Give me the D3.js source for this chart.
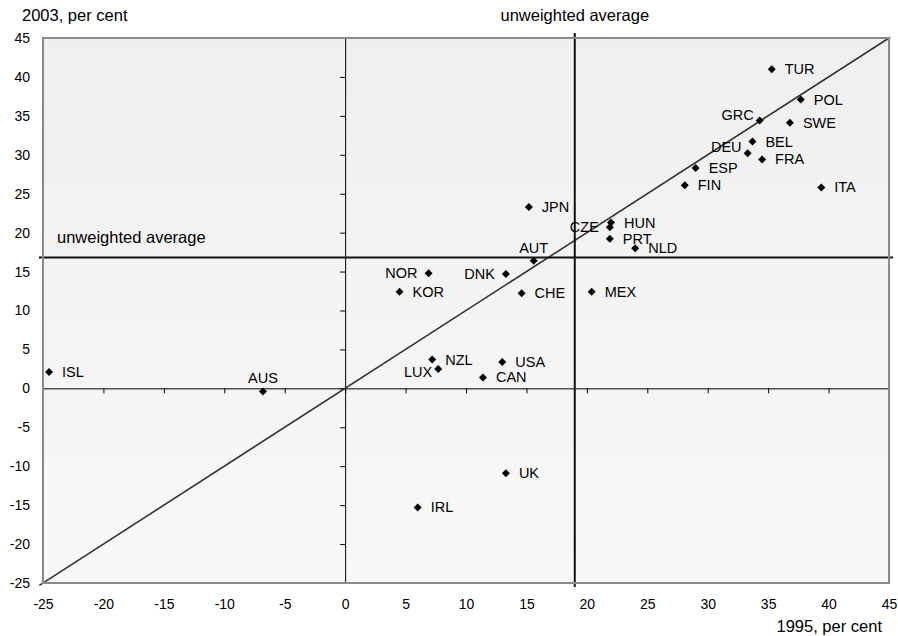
<!DOCTYPE html>
<html>
<head>
<meta charset="utf-8">
<script src="https://cdn.jsdelivr.net/npm/d3@7"></script>
<style>
  html, body { margin: 0; padding: 0; background: #fff; }
  svg { display: block; }
  text { font-family: "Liberation Sans", Arial, sans-serif; fill: #000; }
</style>
</head>
<body>
<svg id="chart" width="898" height="636"></svg>
<script>
const MARGINTOP    = 38;
const MARGINRIGHT  = 9;
const MARGINBOTTOM = 53;
const MARGINLEFT   = 43;

// chart data
const countries = ["TUR","POL","GRC","SWE","BEL","DEU","FRA","ESP","FIN","ITA",
                   "JPN","HUN","CZE","PRT","NLD","AUT","DNK","CHE","MEX","USA",
                   "CAN","NOR","KOR","NZL","LUX","ISL","AUS","UK","IRL"];
const share1995 = [35.3, 37.7, 34.3, 36.8, 33.7, 33.3, 34.5, 29.0, 28.1, 39.4,
                   15.2, 22.0, 21.9, 21.9, 24.0, 15.6, 13.3, 14.6, 20.4, 13.0,
                   11.4, 6.9, 4.5, 7.2, 7.7, -24.5, -6.8, 13.3, 6.0];
const share2003 = [41.0, 37.1, 34.4, 34.1, 31.7, 30.2, 29.4, 28.3, 26.1, 25.8,
                   23.3, 21.3, 20.7, 19.2, 18.0, 16.4, 14.7, 12.2, 12.4, 3.4,
                   1.4, 14.8, 12.4, 3.7, 2.5, 2.1, -0.4, -10.9, -15.3];
const avg1995 = 19.0;
const avg2003 = 16.8;
const xTicks = [-25, -20, -15, -10, -5, 0, 5, 10, 15, 20, 25, 30, 35, 40, 45];
const yTicks = [-25, -20, -15, -10, -5, 0, 5, 10, 15, 20, 25, 30, 35, 40, 45];

// where the country label sits relative to its marker
const labelSide = { GRC: "upleft", DEU: "upleft", CZE: "left", DNK: "left",
                    NOR: "left", LUX: "left", AUT: "above", AUS: "above" };

document.addEventListener('DOMContentLoaded', function(){
    drawChart();
}, false);

function drawChart(){
    var vis = d3.select("#chart");
    var W = +vis.attr("width"), H = +vis.attr("height");

    var x = d3.scaleLinear().domain([-25, 45]).range([MARGINLEFT, W - MARGINRIGHT]);
    var y = d3.scaleLinear().domain([-25, 45]).range([H - MARGINBOTTOM, MARGINTOP]);

    var grad = vis.append("defs").append("linearGradient")
        .attr("id", "bg").attr("x1", 0).attr("y1", 0).attr("x2", 0).attr("y2", 1);
    grad.append("stop").attr("offset", "0%").attr("stop-color", "#efefef");
    grad.append("stop").attr("offset", "100%").attr("stop-color", "#f8f8f8");

    vis.append("rect")
        .attr("x", x(-25)).attr("y", y(45))
        .attr("width", x(45) - x(-25)).attr("height", y(-25) - y(45))
        .attr("fill", "url(#bg)");

    // zero axes with ticks
    vis.append("g")
        .attr("transform", "translate(" + x(0) + ",0)")
        .call(d3.axisLeft(y).tickValues(yTicks).tickSize(5).tickFormat(""))
        .call(g => g.selectAll("line, path").attr("stroke", "#000"));

    vis.append("g")
        .attr("transform", "translate(0," + y(0) + ")")
        .call(d3.axisBottom(x).tickValues(xTicks).tickSize(5).tickFormat(""))
        .call(g => g.selectAll("line, path").attr("stroke", "#000"));

    // tick labels along the frame (plain hyphen for negatives)
    vis.append("g")
        .attr("transform", "translate(" + x(-25) + ",0)")
        .call(d3.axisLeft(y).tickValues(yTicks).tickSize(0).tickPadding(13).tickFormat(d => String(d)))
        .call(g => g.select(".domain").remove())
        .call(g => g.selectAll("text").style("font-size", "14px")
            .style("font-family", "'Liberation Sans', Arial, sans-serif"));

    vis.append("g")
        .attr("transform", "translate(0," + y(-25) + ")")
        .call(d3.axisBottom(x).tickValues(xTicks).tickSize(0).tickPadding(16).tickFormat(d => String(d)))
        .call(g => g.select(".domain").remove())
        .call(g => g.selectAll("text").style("font-size", "14px")
            .style("font-family", "'Liberation Sans', Arial, sans-serif"));

    // 45 degree line
    vis.append("line")
        .attr("x1", x(-25.3)).attr("y1", y(-25.3))
        .attr("x2", x(45.1)).attr("y2", y(45.1))
        .attr("stroke", "#333").attr("stroke-width", 1.6);

    // unweighted averages
    vis.append("line")
        .attr("x1", x(avg1995)).attr("x2", x(avg1995))
        .attr("y1", y(45) - 5).attr("y2", y(-25) + 4)
        .attr("stroke", "#111").attr("stroke-width", 2);
    vis.append("line")
        .attr("x1", x(-25) - 4).attr("x2", x(45) + 4)
        .attr("y1", y(avg2003)).attr("y2", y(avg2003))
        .attr("stroke", "#111").attr("stroke-width", 2);

    // frame
    vis.append("rect")
        .attr("x", x(-25)).attr("y", y(45))
        .attr("width", x(45) - x(-25)).attr("height", y(-25) - y(45))
        .attr("fill", "none").attr("stroke", "#8a8a8a").attr("stroke-width", 2);

    // points: square diamonds
    var pts = countries.map(function(c, i){ return {c: c, x: share1995[i], y: share2003[i]}; });
    var diamond = d3.symbol().type(d3.symbolSquare).size(32);

    vis.selectAll(".pt").data(pts).enter().append("path")
        .attr("class", "pt")
        .attr("transform", d => "translate(" + x(d.x) + "," + y(d.y) + ") rotate(45)")
        .attr("d", diamond)
        .attr("fill", "#000");

    vis.selectAll(".lbl").data(pts).enter().append("text")
        .attr("class", "lbl")
        .style("font-size", "14.5px")
        .attr("x", function(d){
            var s = labelSide[d.c];
            if (s === "left") return x(d.x) - (d.c === "LUX" ? 6 : 11);
            if (s === "upleft") return x(d.x) - 6;
            if (s === "above") return x(d.x);
            return x(d.x) + 13;
        })
        .attr("y", function(d){
            var s = labelSide[d.c];
            if (s === "upleft") return y(d.y) - 1;
            if (s === "above") return y(d.y) - 8;
            if (d.c === "LUX") return y(d.y) + 8;
            return y(d.y) + 5;
        })
        .attr("text-anchor", function(d){
            var s = labelSide[d.c];
            if (s === "left" || s === "upleft") return "end";
            if (s === "above") return "middle";
            return "start";
        })
        .text(d => d.c);

    // titles
    vis.append("text").attr("x", 22).attr("y", 21).style("font-size", "16.5px").text("2003, per cent");
    vis.append("text").attr("x", W - 16).attr("y", 632).attr("text-anchor", "end")
        .style("font-size", "16.5px").text("1995, per cent");
    vis.append("text").attr("x", x(avg1995)).attr("y", 21).attr("text-anchor", "middle")
        .style("font-size", "16.5px").text("unweighted average");
    vis.append("text").attr("x", 57).attr("y", 243)
        .style("font-size", "16.5px").text("unweighted average");
}
</script>
</body>
</html>
